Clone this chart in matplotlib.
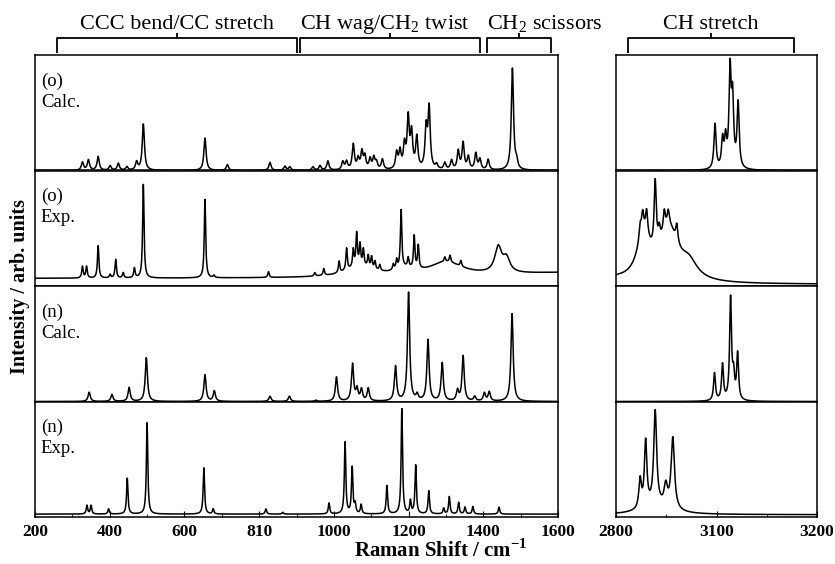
# Raman spectra of (o) and (n) conformers, calculated vs experimental
import numpy as np
import matplotlib.pyplot as plt
from matplotlib.ticker import FixedLocator, MultipleLocator

# peak lists (position cm-1, height as fraction of panel)
# left window 200-1600
calc_o_pos = [327, 343, 369, 401, 423, 446, 472, 490, 655, 715, 829, 869, 882, 944, 963, 984,
              1024, 1034, 1052, 1065, 1075, 1083, 1097, 1107, 1114, 1130, 1168, 1177, 1189, 1199,
              1208, 1222, 1247, 1255, 1275, 1297, 1315, 1333, 1346, 1360, 1380, 1391, 1413, 1478, 1489]
calc_o_amp = [0.07, 0.09, 0.12, 0.04, 0.06, 0.03, 0.07, 0.40, 0.28, 0.05, 0.07, 0.035, 0.03, 0.03, 0.04, 0.08,
              0.07, 0.07, 0.22, 0.09, 0.15, 0.11, 0.09, 0.10, 0.06, 0.09, 0.14, 0.15, 0.20, 0.43,
              0.30, 0.27, 0.34, 0.52, 0.04, 0.06, 0.08, 0.16, 0.23, 0.11, 0.14, 0.09, 0.09, 0.88, 0.06]
exp_o_pos = [327, 338, 369, 401, 416, 436, 466, 490, 655, 679, 825, 949, 973, 1014, 1034, 1052,
             1061, 1070, 1079, 1092, 1101, 1110, 1123, 1159, 1168, 1180, 1199, 1215, 1226,
             1297, 1311, 1340]
exp_o_amp = [0.10, 0.10, 0.28, 0.03, 0.16, 0.045, 0.085, 0.81, 0.68, 0.02, 0.05, 0.03, 0.06, 0.10, 0.19, 0.15,
             0.28, 0.18, 0.14, 0.10, 0.10, 0.07, 0.05, 0.05, 0.08, 0.50, 0.08, 0.28, 0.20,
             0.04, 0.06, 0.05]
exp_o_bg_pos = [1070, 1190, 1300, 1440, 1462, 1650]
exp_o_bg_amp = [0.09, 0.05, 0.12, 0.22, 0.12, 0.05]
exp_o_bg_fwhm = [90, 60, 110, 22, 22, 500]
calc_n_pos = [345, 406, 452, 498, 655, 680, 829, 881, 952, 1007, 1050, 1062, 1074, 1092, 1165, 1200,
              1223, 1252, 1290, 1331, 1346, 1377, 1403, 1416, 1477]
calc_n_amp = [0.08, 0.06, 0.12, 0.38, 0.23, 0.09, 0.045, 0.045, 0.01, 0.21, 0.32, 0.10, 0.10, 0.11, 0.30, 0.94,
              0.05, 0.53, 0.33, 0.09, 0.39, 0.04, 0.07, 0.08, 0.76]
exp_n_pos = [339, 350, 397, 447, 500, 652, 677, 818, 863, 987, 1030, 1049, 1057, 1073, 1142, 1182,
             1205, 1219, 1254, 1294, 1309, 1334, 1351, 1372, 1442]
exp_n_amp = [0.075, 0.075, 0.045, 0.31, 0.79, 0.40, 0.045, 0.045, 0.015, 0.095, 0.62, 0.40, 0.08, 0.08, 0.245, 0.91,
             0.11, 0.42, 0.20, 0.05, 0.15, 0.10, 0.06, 0.065, 0.06]

# right window 2800-3200
calc_o_ch_pos = [2997, 3012, 3018, 3027, 3032, 3043]
calc_o_ch_amp = [0.39, 0.24, 0.24, 0.82, 0.56, 0.56]
exp_o_ch_pos = [2848, 2853, 2861, 2878, 2886, 2896, 2904, 2921]
exp_o_ch_amp = [0.12, 0.16, 0.20, 0.58, 0.12, 0.17, 0.12, 0.15]
exp_o_ch_bg_pos = [2855, 2905, 2945, 2800]
exp_o_ch_bg_amp = [0.36, 0.44, 0.14, 0.03]
exp_o_ch_bg_fwhm = [32, 45, 40, 60]
calc_n_ch_pos = [2996, 3012, 3028, 3034, 3042]
calc_n_ch_amp = [0.24, 0.31, 0.88, 0.20, 0.40]
exp_n_ch_pos = [2848, 2859, 2878, 2899, 2913, 2880]
exp_n_ch_amp = [0.25, 0.57, 0.82, 0.18, 0.62, 0.06]
exp_n_ch_fwhm = [6, 6, 7, 8, 8, 70]

row_labels = ["(o)\nCalc.", "(o)\nExp.", "(n)\nCalc.", "(n)\nExp."]
left_ticks = [200, 400, 600, 800, 1000, 1200, 1400, 1600]
left_tick_labels = ["200", "400", "600", "810", "1000", "1200", "1400", "1600"]
right_ticks = [2800, 3000, 3200]
right_tick_labels = ["2800", "3100", "3200"]
brackets = [(260, 900, "CCC bend/CC stretch", "center"),
            (910, 1390, "CH wag/CH$_2$ twist", "left"),
            (1410, 1582, "CH$_2$ scissors", "left")]
ch_bracket = (2824, 3154, "CH stretch", "center")


# sums lorentzian lines on a grid
def lorentz_sum(x, pos, amp, fwhm, base=0.0):
    y = np.full_like(x, base)
    fwhm = np.broadcast_to(np.asarray(fwhm, dtype=float), (len(pos),))
    for p, a, w in zip(pos, amp, fwhm):
        y += a / (1.0 + ((x - p) / (w / 2.0)) ** 2)
    return y


plt.rcParams["font.family"] = ["Liberation Serif", "DejaVu Serif"]
plt.rcParams["mathtext.fontset"] = "custom"
plt.rcParams["mathtext.rm"] = "Liberation Serif"
plt.rcParams["mathtext.bf"] = "Liberation Serif:bold"

xl = np.arange(200, 1600.01, 0.5)
xr = np.arange(2800, 3200.01, 0.25)

left_rows = [
    lorentz_sum(xl, calc_o_pos, calc_o_amp, 7),
    lorentz_sum(xl, exp_o_pos, exp_o_amp, 4.5, 0.065) + lorentz_sum(xl, exp_o_bg_pos, exp_o_bg_amp, exp_o_bg_fwhm),
    lorentz_sum(xl, calc_n_pos, calc_n_amp, 7),
    lorentz_sum(xl, exp_n_pos, exp_n_amp, 4.5, 0.025),
]
right_rows = [
    lorentz_sum(xr, calc_o_ch_pos, calc_o_ch_amp, 5),
    lorentz_sum(xr, exp_o_ch_pos, exp_o_ch_amp, 5, 0.015) + lorentz_sum(xr, exp_o_ch_bg_pos, exp_o_ch_bg_amp, exp_o_ch_bg_fwhm),
    lorentz_sum(xr, calc_n_ch_pos, calc_n_ch_amp, 4.5),
    lorentz_sum(xr, exp_n_ch_pos, exp_n_ch_amp, exp_n_ch_fwhm, 0.02),
]

fig = plt.figure(figsize=(8.35, 5.64), dpi=100)
W, H = 835.0, 564.0
top_px, row_px = 55.0, 115.5
left_axes, right_axes = [], []
for i in range(4):
    bottom = 1 - (top_px + (i + 1) * row_px) / H
    axl = fig.add_axes([35 / W, bottom, 523 / W, row_px / H])
    axr = fig.add_axes([616 / W, bottom, 201 / W, row_px / H])
    for ax, x, y, lim in [(axl, xl, left_rows[i], (200, 1600)), (axr, xr, right_rows[i], (2800, 3200))]:
        ax.plot(x, y, color="black", lw=1.1)
        ax.set_xlim(*lim)
        ax.set_ylim(0, 1)
        ax.set_yticks([])
        for sp in ax.spines.values():
            sp.set_linewidth(1.1)
        ax.tick_params(axis="x", which="both", direction="in", top=False, bottom=(i == 3),
                       labelbottom=(i == 3), labelsize=12.5, pad=5)
        ax.tick_params(axis="x", which="major", length=4)
        ax.tick_params(axis="x", which="minor", length=2.5)
    axl.text(0.011, 0.85, row_labels[i], transform=axl.transAxes, ha="left", va="top",
             fontsize=13.5, linespacing=1.3)
    left_axes.append(axl)
    right_axes.append(axr)

# bottom ticks with the labels as printed
axl, axr = left_axes[-1], right_axes[-1]
axl.xaxis.set_major_locator(FixedLocator(left_ticks))
axl.set_xticklabels(left_tick_labels, fontweight="bold")
axl.xaxis.set_minor_locator(MultipleLocator(100))
axr.xaxis.set_major_locator(FixedLocator(right_ticks))
axr.set_xticklabels(right_tick_labels, fontweight="bold")
axr.xaxis.set_minor_locator(MultipleLocator(100))


# band assignment brackets above the top row
def draw_bracket(ax, x0, x1, label, align):
    tr = ax.get_xaxis_transform()
    kw = dict(color="black", lw=1.3, transform=tr, clip_on=False, solid_capstyle="butt")
    ax.plot([x0, x0, x1, x1], [1.017, 1.147, 1.147, 1.017], **kw)
    xm = (x0 + x1) / 2
    ax.plot([xm, xm], [1.147, 1.19], **kw)
    xt = xm if align == "center" else x0
    ax.text(xt, 1.225, label, transform=tr, ha=align, va="baseline", fontsize=16)


for x0, x1, label, align in brackets:
    draw_bracket(left_axes[0], x0, x1, label, align)
draw_bracket(right_axes[0], *ch_bracket)

fig.text(0.528, 0.012, "Raman Shift / cm$^{\\mathbf{-1}}$", ha="center", va="baseline",
         fontsize=15, fontweight="bold")
fig.text(0.024, (H - 286) / H, "Intensity / arb. units", ha="center", va="center",
         rotation=90, fontsize=14.5, fontweight="bold")

fig.savefig("out.png", dpi=100)
